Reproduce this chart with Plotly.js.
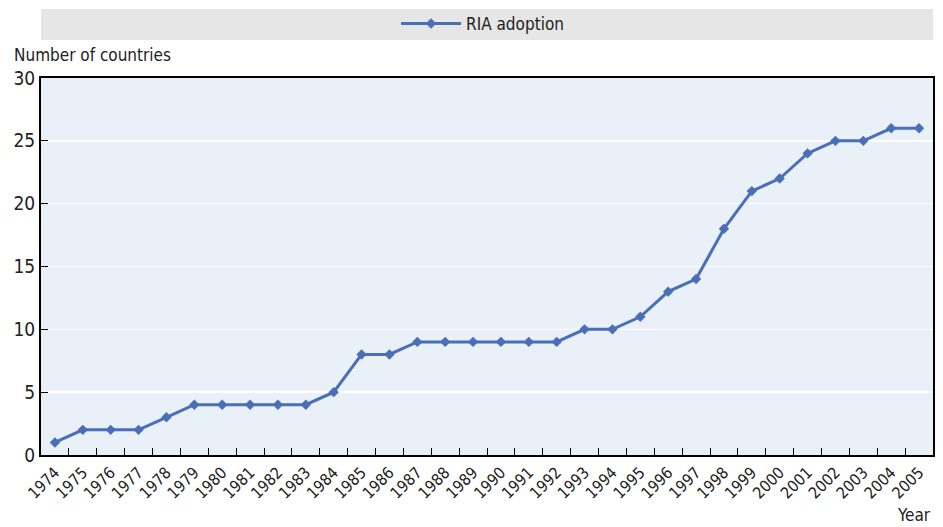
<!DOCTYPE html>
<html><head><meta charset="utf-8">
<script src="https://cdn.plot.ly/plotly-3.0.1.min.js"></script>
<style>body{margin:0;padding:0;background:#fff}#c{width:943px;height:527px}</style>
</head><body><div id="c"></div>
<script>
const years = ["1974","1975","1976","1977","1978","1979","1980","1981","1982","1983","1984","1985","1986","1987","1988","1989","1990","1991","1992","1993","1994","1995","1996","1997","1998","1999","2000","2001","2002","2003","2004","2005"];
const riaAdoption = [1,2,2,2,3,4,4,4,4,4,5,8,8,9,9,9,9,9,9,10,10,11,13,14,18,21,22,24,25,25,26,26];
const seriesName = "RIA adoption";
const yTicks = [0,5,10,15,20,25,30];

const FONT = "'DejaVu Sans Condensed', 'Liberation Sans Narrow', 'Liberation Sans', sans-serif";
const H = 377; // plot height px
function py(p){ return (455 - p)/H; }

const trace = {
  x: years, y: riaAdoption, name: seriesName, type: 'scatter', mode: 'lines+markers',
  line: {color: '#4A6FB7', width: 3},
  marker: {symbol: 'diamond', size: 8, color: '#4A6FB7'}
};

const layout = {
  width: 943, height: 527,
  margin: {l: 41, r: 10, t: 78, b: 72, pad: 0, autoexpand: false},
  paper_bgcolor: '#ffffff', plot_bgcolor: '#EAF0F8',
  font: {family: FONT, size: 18, color: '#222'},
  showlegend: true,
  legend: {orientation: 'h', x: 0.495, xanchor: 'center', y: py(24), yanchor: 'middle',
           bgcolor: 'rgba(0,0,0,0)', font: {family: FONT, size: 17, color: '#222'}, itemwidth: 60},
  xaxis: {
    type: 'category', tickangle: -45, tickfont: {family: FONT, size: 16, color: '#222'},
    ticks: 'inside', ticklen: 7, tickcolor: '#000', tickson: 'boundaries',
    showline: true, linecolor: '#000', linewidth: 2, mirror: true,
    showgrid: false, range: [-0.5, years.length - 0.5], fixedrange: true, automargin: false
  },
  yaxis: {
    range: [0, 30], tickvals: yTicks, ticktext: yTicks.map(String),
    tickfont: {family: FONT, size: 19, color: '#222'},
    ticks: 'inside', ticklen: 7, tickcolor: '#000',
    showline: true, linecolor: '#000', linewidth: 2, mirror: true,
    showgrid: true, gridcolor: '#ffffff', gridwidth: 1.5, zeroline: false, fixedrange: true, automargin: false
  },
  shapes: [{type: 'rect', xref: 'paper', yref: 'paper', x0: 0, x1: 1, y0: py(40), y1: py(9),
            fillcolor: '#E6E6E6', line: {width: 0}, layer: 'below'}],
  annotations: [
    {text: 'Number of countries', xref: 'paper', yref: 'paper', x: -41/892 + 12/892, y: py(55),
     xanchor: 'left', yanchor: 'middle', showarrow: false, font: {family: FONT, size: 17, color: '#222'}},
    {text: 'Year', xref: 'paper', yref: 'paper', x: 1, y: py(515), xanchor: 'right', yanchor: 'middle',
     showarrow: false, font: {family: FONT, size: 17, color: '#222'}}
  ]
};
Plotly.newPlot('c', [trace], layout, {staticPlot: true});
</script></body></html>
